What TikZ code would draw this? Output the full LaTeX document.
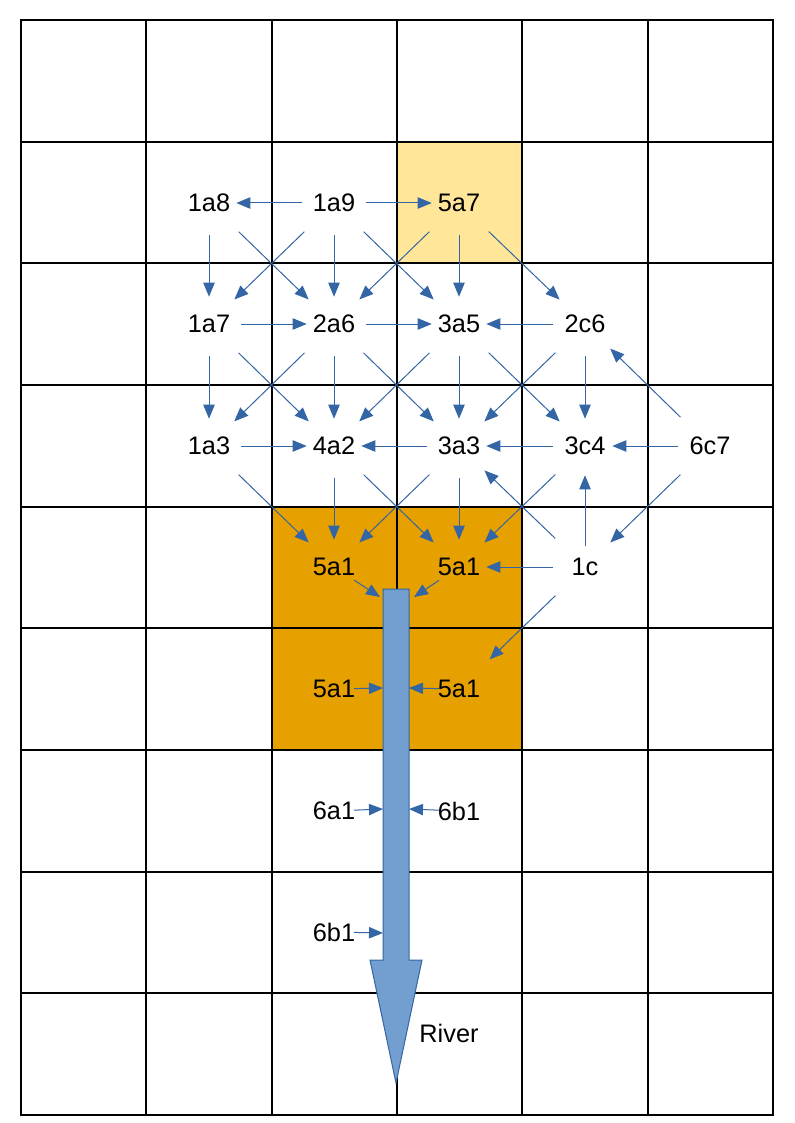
\documentclass[tikz,border=0pt]{standalone}
\usepackage{fontspec}
\setmainfont{Liberation Sans}
\usetikzlibrary{arrows.meta}

\definecolor{flowblue}{HTML}{3465A4}
\definecolor{riverblue}{HTML}{729FCF}
\definecolor{cellyellow}{HTML}{FFE699}
\definecolor{cellorange}{HTML}{E6A000}

\begin{document}
\begin{tikzpicture}[x=0.75pt, y=-0.75pt,
    cell/.style={circle, inner sep=0pt, minimum size=37.5pt, font=\fontsize{19}{21}\selectfont},
    flow/.style={draw=flowblue, line width=0.75pt, -{Triangle[length=10.5pt, width=8.5pt]}, shorten <=5pt, shorten >=1.5pt},
    slant/.style={flow, shorten <=12pt, shorten >=7.5pt},
    drain/.style={flow, shorten <=15pt, shorten >=0pt}]

    \useasboundingbox (0,0) rectangle (794,1123);

    % coloured cells
    \fill[cellyellow] (397,141.7) rectangle (522.3,263.3);
    \fill[cellorange] (271.7,506.7) rectangle (522.3,750);

    % grid
    \foreach \i in {0,...,6} {
        \draw[line width=1.5pt, line cap=rect] (21+\i*125.33, 20) -- (21+\i*125.33, 1115);
    }
    \foreach \j in {0,...,9} {
        \draw[line width=1.5pt, line cap=rect] (21, 20+\j*121.67) -- (773, 20+\j*121.67);
    }

    % river
    \draw[flowblue, fill=riverblue, line width=0.75pt]
        (383,589) -- (409,589) -- (409,960) -- (422,960) -- (396,1083) -- (370,960) -- (383,960) -- cycle;
    \node[cell] (river) at (449,1033) {River};
    \coordinate (rvA) at (380,597);
    \coordinate (rvB) at (414,597);
    \coordinate (rvC) at (383,688);
    \coordinate (rvD) at (409,688);
    \coordinate (rvE) at (383,809);
    \coordinate (rvF) at (409,809);
    \coordinate (rvG) at (383,933);

    % cells
    \node[cell] (n1a8) at (209,203) {1a8};
    \node[cell] (n1a9) at (334,203) {1a9};
    \node[cell] (n5a7) at (459,203) {5a7};
    \node[cell] (n1a7) at (209,324) {1a7};
    \node[cell] (n2a6) at (334,324) {2a6};
    \node[cell] (n3a5) at (459,324) {3a5};
    \node[cell] (n2c6) at (585,324) {2c6};
    \node[cell] (n1a3) at (209,446) {1a3};
    \node[cell] (n4a2) at (334,446) {4a2};
    \node[cell] (n3a3) at (459,446) {3a3};
    \node[cell] (n3c4) at (585,446) {3c4};
    \node[cell] (n6c7) at (710,446) {6c7};
    \node[cell] (n5a1a) at (334,567) {5a1};
    \node[cell] (n5a1b) at (459,567) {5a1};
    \node[cell] (n1c) at (585,567) {1c};
    \node[cell] (n5a1c) at (334,689) {5a1};
    \node[cell] (n5a1d) at (459,689) {5a1};
    \node[cell] (n6a1) at (334,811) {6a1};
    \node[cell] (n6b1a) at (459,811) {6b1};
    \node[cell] (n6b1b) at (334,932) {6b1};

    % first row
    \draw[flow] (n1a9) -- (n1a8);
    \draw[flow] (n1a9) -- (n5a7);
    \draw[flow] (n1a8) -- (n1a7);
    \draw[slant] (n1a8) -- (n2a6);
    \draw[slant] (n1a9) -- (n1a7);
    \draw[flow] (n1a9) -- (n2a6);
    \draw[slant] (n1a9) -- (n3a5);
    \draw[slant] (n5a7) -- (n2a6);
    \draw[flow] (n5a7) -- (n3a5);
    \draw[slant] (n5a7) -- (n2c6);

    % second row
    \draw[flow] (n1a7) -- (n2a6);
    \draw[flow] (n2a6) -- (n3a5);
    \draw[flow] (n2c6) -- (n3a5);
    \draw[flow] (n1a7) -- (n1a3);
    \draw[slant] (n1a7) -- (n4a2);
    \draw[slant] (n2a6) -- (n1a3);
    \draw[flow] (n2a6) -- (n4a2);
    \draw[slant] (n2a6) -- (n3a3);
    \draw[slant] (n3a5) -- (n4a2);
    \draw[flow] (n3a5) -- (n3a3);
    \draw[slant] (n3a5) -- (n3c4);
    \draw[slant] (n2c6) -- (n3a3);
    \draw[flow] (n2c6) -- (n3c4);
    \draw[slant] (n6c7) -- (n2c6);

    % third row
    \draw[flow] (n1a3) -- (n4a2);
    \draw[flow] (n3a3) -- (n4a2);
    \draw[flow] (n3c4) -- (n3a3);
    \draw[flow] (n6c7) -- (n3c4);
    \draw[slant] (n1a3) -- (n5a1a);
    \draw[flow] (n4a2) -- (n5a1a);
    \draw[slant] (n3a3) -- (n5a1a);
    \draw[slant] (n4a2) -- (n5a1b);
    \draw[flow] (n3a3) -- (n5a1b);
    \draw[slant] (n3c4) -- (n5a1b);
    \draw[slant] (n6c7) -- (n1c);
    \draw[slant] (n1c) -- (n3a3);
    \draw[flow, shorten <=-3pt, shorten >=3pt] (n1c) -- (n3c4);

    % into the river
    \draw[flow] (n1c) -- (n5a1b);
    \draw[slant, shorten >=13pt] (n1c) -- (n5a1d);
    \draw[drain, shorten <=18pt] (n5a1a.center) -- (rvA);
    \draw[drain, shorten <=18pt] (n5a1b.center) -- (rvB);
    \draw[drain] (n5a1c.center) -- (rvC);
    \draw[drain] (n5a1d.center) -- (rvD);
    \draw[drain] (n6a1.center) -- (rvE);
    \draw[drain] (n6b1a.center) -- (rvF);
    \draw[drain] (n6b1b.center) -- (rvG);
\end{tikzpicture}
\end{document}
